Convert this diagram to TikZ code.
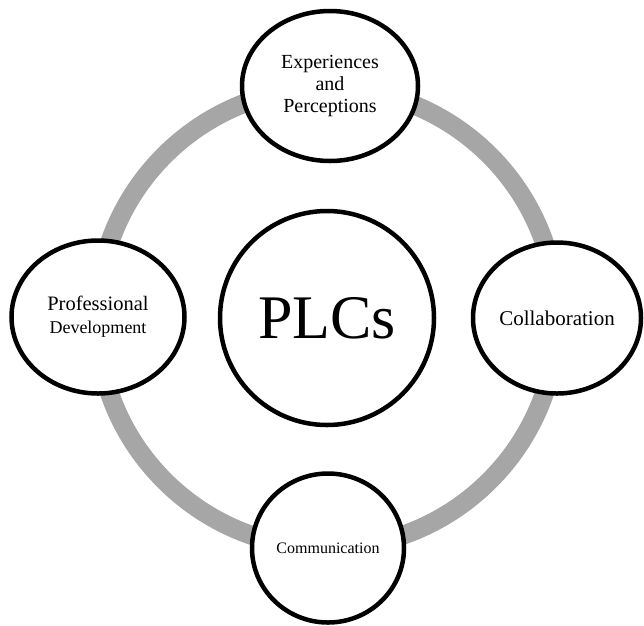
\documentclass[tikz,border=0pt]{standalone}
\usepackage{fontspec}
\setmainfont{Liberation Serif}
\usetikzlibrary{shapes.geometric}
\definecolor{ringgray}{RGB}{166,166,166}
\tikzset{
  topic/.style={draw, ellipse, line width=4.5pt, fill=white, inner sep=0pt, align=center},
  ring/.style={draw=ringgray, line width=19pt}
}

\begin{document}
\begin{tikzpicture}[x=1pt,y=-1pt]
\useasboundingbox (0,0) rectangle (644,625);
%% ring behind the topics
\coordinate (hub) at (327,318);
\draw[ring] (hub) circle[radius=230pt];

%% topics
\node[topic, minimum width=176pt, minimum height=150pt,
  font=\fontsize{20}{22}\selectfont] (exp) at (330,86) {Experiences\\and\\Perceptions};
\node[topic, minimum width=173pt, minimum height=153pt,
  font=\fontsize{20.5}{23}\selectfont] (prof) at (98,317)
  {Professional\\{\fontsize{18}{23}\selectfont Development}};
\node[topic, minimum width=168pt, minimum height=151pt,
  font=\fontsize{21}{24}\selectfont] (coll) at (557,318) {Collaboration};
\node[topic, minimum width=152pt, minimum height=149pt,
  font=\fontsize{16}{18}\selectfont] (comm) at (328,548) {Communication};

%% centre
\node[topic, circle, minimum size=214pt,
  font=\fontsize{62}{62}\selectfont] (plcs) at (hub) {PLCs};
\end{tikzpicture}
\end{document}
